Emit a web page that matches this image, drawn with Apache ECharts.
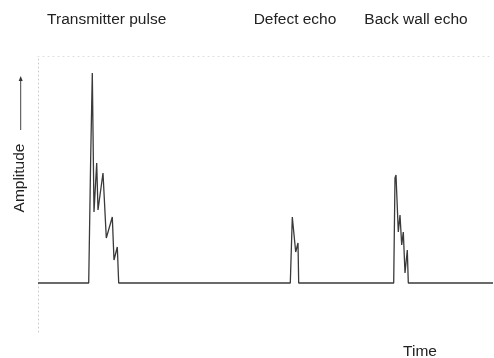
<!DOCTYPE html>
<html>
<head>
<meta charset="utf-8">
<script src="https://cdn.jsdelivr.net/npm/echarts@6/dist/echarts.min.js"></script>
<style>
html,body{margin:0;padding:0;background:#fff;}
#chart{width:494px;height:358px;}
</style>
</head>
<body>
<div id="chart"></div>
<script>
// Time (arbitrary units) and amplitude (arbitrary units) of the A-scan trace
const time = [0, 50.7, 52.7, 54.3, 56, 58.7, 60, 65, 68.3, 74.3, 76, 79.3, 80.7,
              252.3, 254.3, 257.7, 260, 260.7,
              355.7, 357, 358, 360.3, 362, 363.7, 365.3, 367, 369.3, 370.3, 455];
const amplitude = [0, 0, 126, 210, 71, 120, 73, 110, 45, 66, 23, 36, 0,
                   0, 66, 31, 40, 0,
                   0, 105, 108, 51, 68, 38, 51, 10, 33, 0, 0];
const labels = ["Transmitter pulse", "Defect echo", "Back wall echo"];
const axisTitles = {x: "Time", y: "Amplitude"};

const chart = echarts.init(document.getElementById('chart'));
const font = '"Liberation Sans", Arial, sans-serif';
const textStyle = {fill: '#222', font: '15.5px ' + font};

chart.setOption({
  animation: false,
  grid: {left: 38, right: 1, top: 56, bottom: 26},
  xAxis: [
    {type: 'value', min: 0, max: 455, axisLine: {show: false}, axisTick: {show: false},
     axisLabel: {show: false}, splitLine: {show: false}},
    {type: 'value', position: 'top', min: 0, max: 455,
     axisLine: {show: true, lineStyle: {color: '#ddd', type: [1, 4], width: 1}},
     axisTick: {show: false}, axisLabel: {show: false}, splitLine: {show: false}}
  ],
  yAxis: {type: 'value', min: -49, max: 227,
    axisLine: {show: true, lineStyle: {color: '#ccc', type: [1, 3], width: 1}},
    axisTick: {show: false}, axisLabel: {show: false}, splitLine: {show: false}},
  series: [{
    type: 'line',
    data: time.map((t, i) => [t, amplitude[i]]),
    symbol: 'none',
    lineStyle: {color: '#3a3a3a', width: 1.3},
    z: 3
  }],
  graphic: [
    {type: 'text', x: 106.7, y: 20, style: Object.assign({text: labels[0], align: 'center', verticalAlign: 'middle'}, textStyle)},
    {type: 'text', x: 295, y: 20, style: Object.assign({text: labels[1], align: 'center', verticalAlign: 'middle'}, textStyle)},
    {type: 'text', x: 416, y: 20, style: Object.assign({text: labels[2], align: 'center', verticalAlign: 'middle'}, textStyle)},
    {type: 'text', x: 420, y: 352, style: Object.assign({text: axisTitles.x, align: 'center', verticalAlign: 'middle'}, textStyle)},
    {type: 'text', x: 20, y: 178, rotation: Math.PI / 2,
     style: Object.assign({text: axisTitles.y, align: 'center', verticalAlign: 'middle'}, textStyle)},
    {type: 'line', shape: {x1: 20.7, y1: 130, x2: 20.7, y2: 80}, style: {stroke: '#444', lineWidth: 1}},
    {type: 'polygon', shape: {points: [[20.7, 76], [18.7, 81], [22.7, 81]]}, style: {fill: '#333'}}
  ]
});
</script>
</body>
</html>
